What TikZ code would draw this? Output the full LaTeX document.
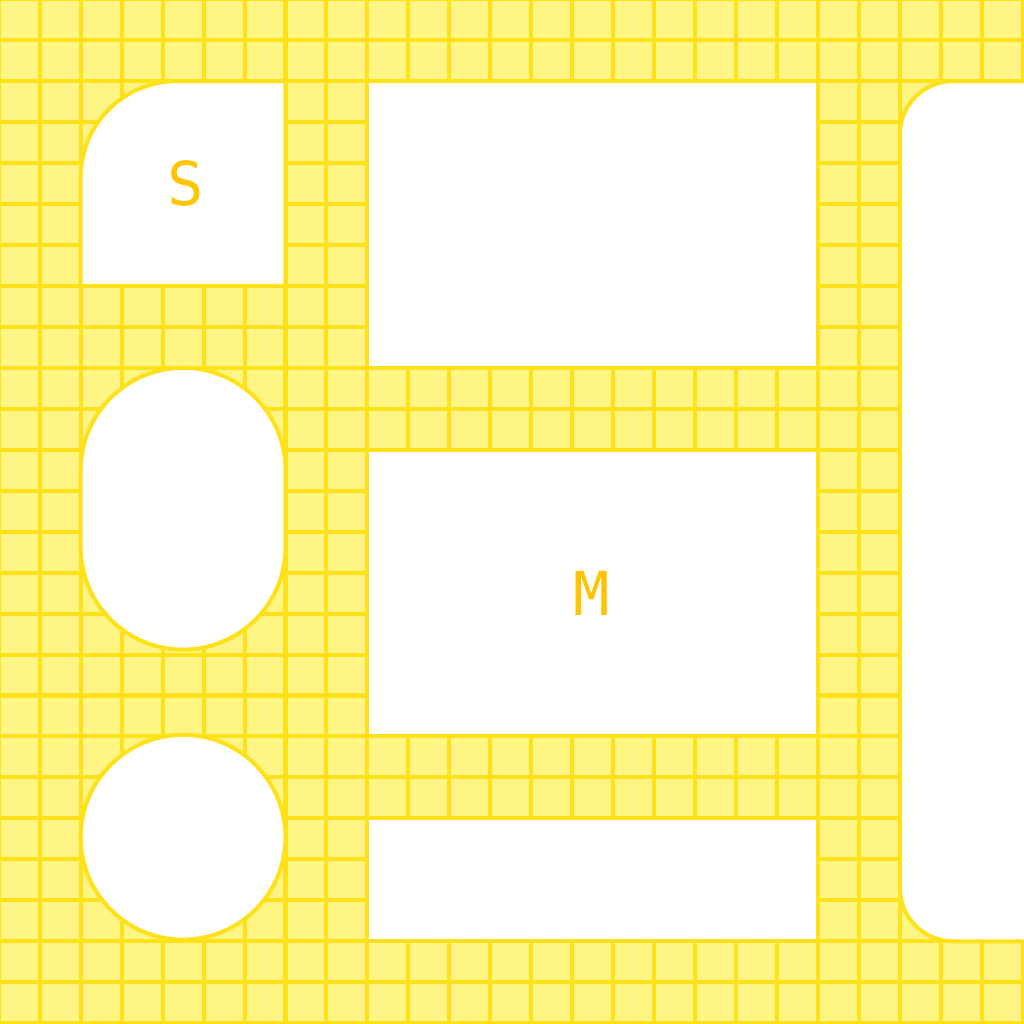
\documentclass[tikz,border=0pt]{standalone}
\usepackage{fontspec}
\setmainfont{Open Sans}
\setmonofont{DejaVu Sans Mono}
\usepackage{tikz}
\usetikzlibrary{positioning}
\definecolor{gridfill}{HTML}{FFF585}
\definecolor{gridline}{HTML}{FFE11A}
\definecolor{labeltext}{HTML}{FFC400}

\begin{document}
\begin{tikzpicture}[y=-1cm, line width=2.8pt,
    slot/.style={fill=white, draw=gridline},
    slotlabel/.style={text=labeltext, font=\ttfamily\fontsize{42}{46}\selectfont, inner sep=0pt}]
  \useasboundingbox (0.03,0.02) rectangle (25.03,25.02);
  \clip (0.03,0.02) rectangle (25.03,25.02);
  % Background: the squared sheet
  \fill[gridfill] (0,0) rectangle (26,26);
  \draw[gridline] (0,0) grid (26,26);

  % Left column: quarter-rounded square, stadium, circle
  \draw[slot] (7,7) -- (2,7) [rounded corners=2.35cm] -- (2,2) [sharp corners] -- (7,2) -- cycle;
  \node[slotlabel] (small) at (4.57,4.5) {S};
  \draw[slot, rounded corners=2.5cm] (2,9) rectangle (7,15.88);
  \draw[slot] (4.5,20.46) circle (2.5);

  % Middle column: three plain boxes
  \draw[slot] (9,2) rectangle (20,9);
  \draw[slot] (9,11) rectangle (20,18);
  \node[slotlabel] (medium) at (14.48,14.5) {M};
  \draw[slot] (9,20) rectangle (20,23);

  % Right column: tall rounded box running off the edge
  \draw[slot, rounded corners=1.3cm] (22,2) rectangle (27,23);
\end{tikzpicture}
\end{document}
